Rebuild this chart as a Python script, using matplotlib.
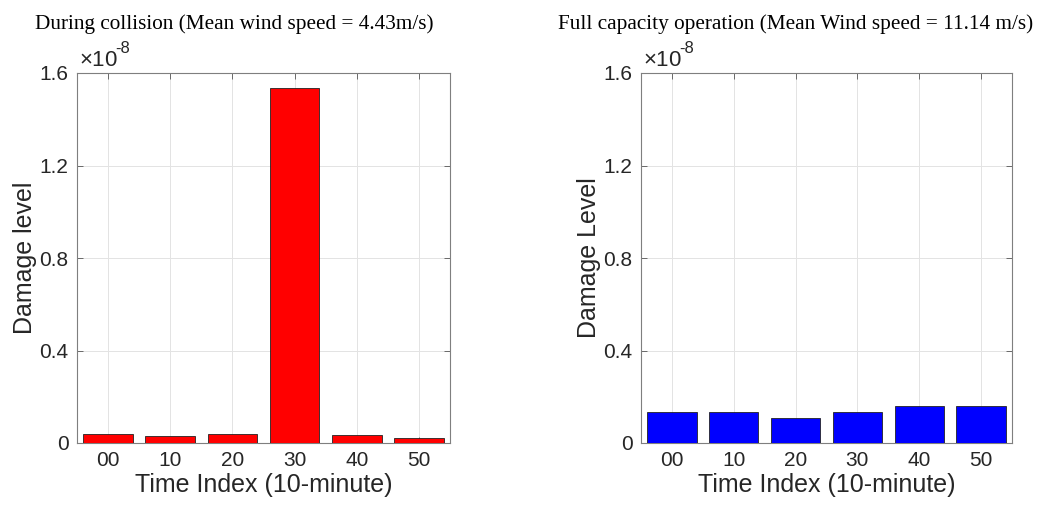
import matplotlib.pyplot as plt

# values in units of 1e-8
time_labels = ["00", "10", "20", "30", "40", "50"]
collision_damage = [0.038, 0.030, 0.037, 1.535, 0.035, 0.021]
full_capacity_damage = [0.132, 0.136, 0.109, 0.136, 0.162, 0.161]
yticks = [0, 0.4, 0.8, 1.2, 1.6]

plt.rcParams["font.family"] = "Liberation Sans"
plt.rcParams["mathtext.fontset"] = "custom"
plt.rcParams["mathtext.rm"] = "Liberation Sans"

fig = plt.figure(figsize=(10.38, 5.07), dpi=100)
W, H = 1038, 507


def panel(rect, values, color, ylabel):
    ax = fig.add_axes(rect)
    x = list(range(len(values)))
    ax.bar(x, values, width=0.8, color=color, edgecolor="#222222",
           linewidth=0.6, zorder=3)
    ax.set_xlim(-0.5, len(values) - 0.5)
    ax.set_ylim(0, 1.6)
    ax.set_xticks(x)
    ax.set_xticklabels(time_labels)
    ax.set_yticks(yticks)
    ax.set_yticklabels(["0", "0.4", "0.8", "1.2", "1.6"])
    ax.grid(True, color="#e3e3e3", linewidth=0.7, zorder=0)
    ax.tick_params(direction="in", length=4, width=0.6, color="#555555",
                   labelsize=15, labelcolor="#262626", top=True, right=True,
                   pad=6)
    for s in ax.spines.values():
        s.set_color("#7f7f7f")
        s.set_linewidth(0.8)
    ax.set_xlabel("Time Index (10-minute)", fontsize=18, color="#262626",
                  labelpad=2)
    ax.set_ylabel(ylabel, fontsize=18, color="#262626", labelpad=2)
    ax.text(0.005, 1.005, r"$\times$10", transform=ax.transAxes,
            fontsize=16, color="#262626", ha="left", va="bottom")
    ax.text(0.103, 1.045, "-8", transform=ax.transAxes,
            fontsize=12, color="#262626", ha="left", va="bottom")
    return ax


panel([77 / W, 64 / H, 373 / W, 370 / H], collision_damage, "#ff0000",
      "Damage level")
panel([641 / W, 64 / H, 371 / W, 370 / H], full_capacity_damage, "#0000ff",
      "Damage Level")

fig.text(35 / W, 1 - 24 / H, "During collision (Mean wind speed = 4.43m/s)",
         family="Liberation Serif", fontsize=15.3, ha="left", va="center")
fig.text(558 / W, 1 - 24 / H,
         "Full capacity operation (Mean Wind speed = 11.14 m/s)",
         family="Liberation Serif", fontsize=15.3, ha="left", va="center")

fig.savefig("out.png", dpi=100)
